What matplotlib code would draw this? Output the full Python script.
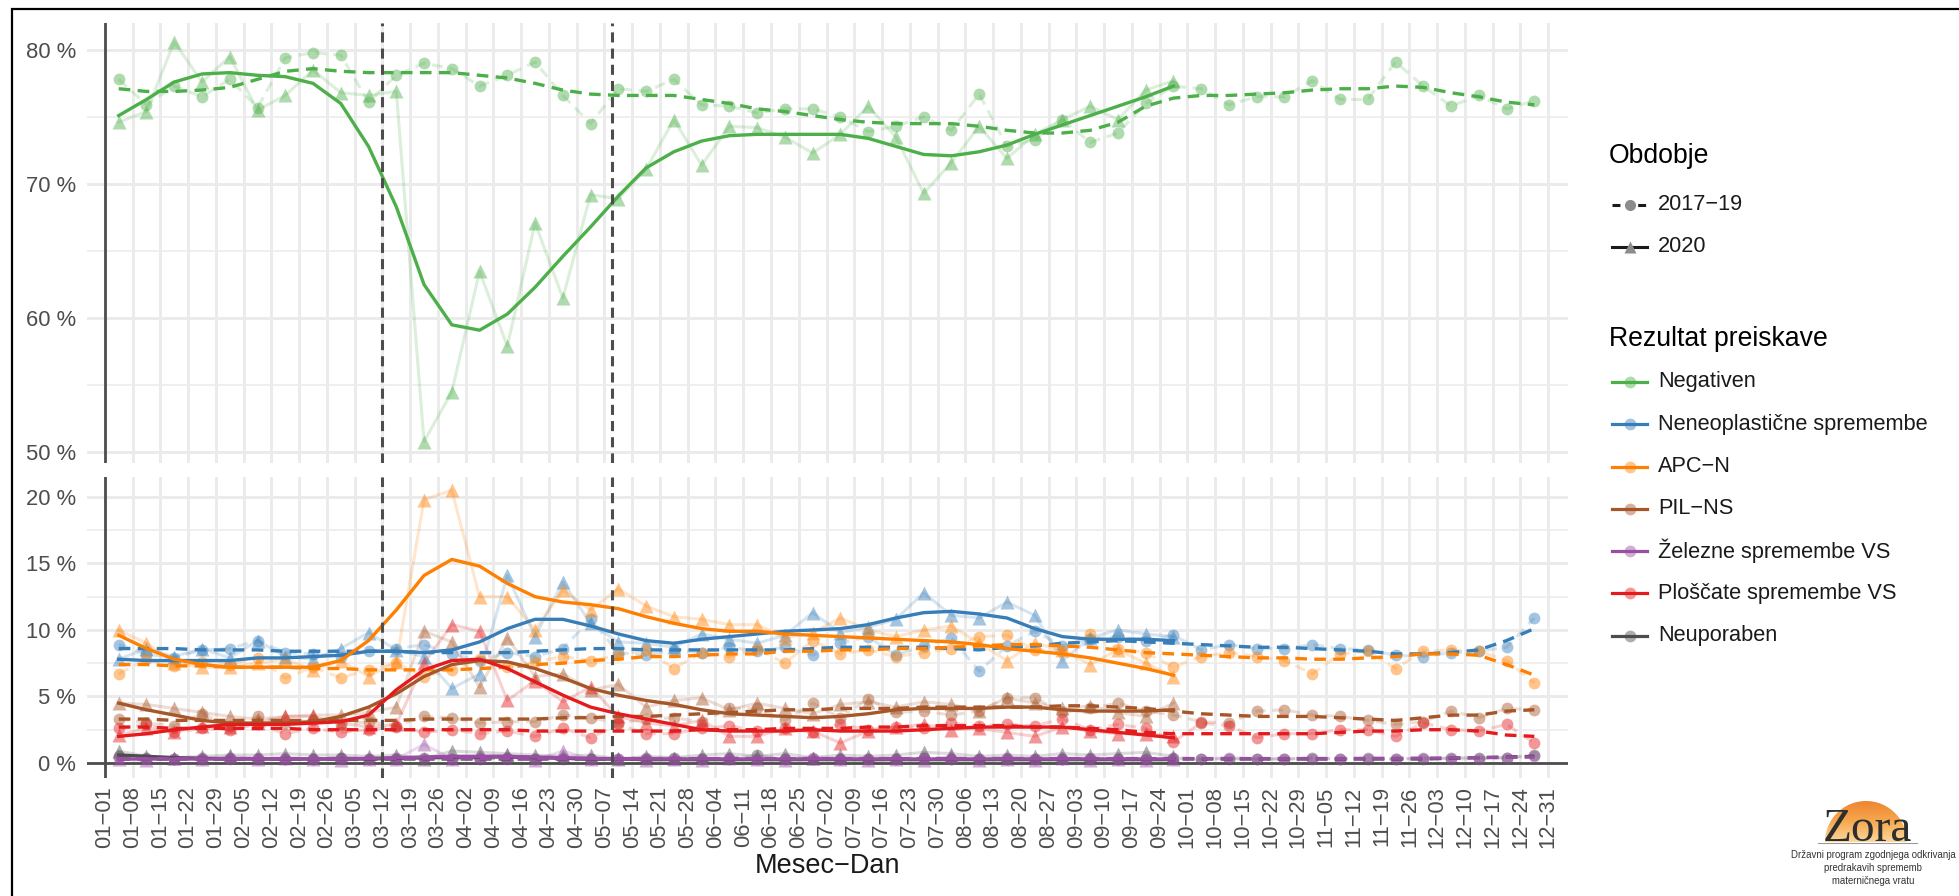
import numpy as np
import matplotlib.pyplot as plt
from matplotlib.lines import Line2D
from matplotlib.patches import Circle
from matplotlib.colors import LinearSegmentedColormap
from datetime import datetime

plt.rcParams['font.family'] = ['Liberation Sans', 'DejaVu Sans']

# oznake na osi x (mesec-dan), tedensko
oznake = ['01-01', '01-08', '01-15', '01-22', '01-29', '02-05', '02-12', '02-19', '02-26',
          '03-05', '03-12', '03-19', '03-26', '04-02', '04-09', '04-16', '04-23', '04-30',
          '05-07', '05-14', '05-21', '05-28', '06-04', '06-11', '06-18', '06-25', '07-02',
          '07-09', '07-16', '07-23', '07-30', '08-06', '08-13', '08-20', '08-27', '09-03',
          '09-10', '09-17', '09-24', '10-01', '10-08', '10-15', '10-22', '10-29', '11-05',
          '11-12', '11-19', '11-26', '12-03', '12-10', '12-17', '12-24', '12-31']
epidemija = ['03-12', '05-09']

obdobja = ['2017\u221219', '2020']
rezultati = ['Negativen', 'Neneoplasti\u010dne spremembe', 'APC\u2212N', 'PIL\u2212NS',
             '\u017delezne spremembe VS', 'Plo\u0161\u010date spremembe VS', 'Neuporaben']
barve = ['#4DAF4A', '#377EB8', '#FF7F00', '#A65628', '#984EA3', '#E41A1C', '#4D4D4D']

# --- Negativen (%)
neg_1719 = [77.8, 75.9, 77.3, 76.5, 77.8, 75.7, 79.4, 79.8, 79.6, 76.1, 78.1, 79.0, 78.6, 77.3,
            78.1, 79.1, 76.6, 74.5, 77.1, 76.9, 77.8, 75.9, 75.8, 75.3, 75.6, 75.6, 75.0, 73.9,
            74.3, 75.0, 74.0, 76.7, 72.8, 73.3, 74.8, 73.1, 73.8, 76.0, 77.3, 77.1, 75.9, 76.5,
            76.5, 77.7, 76.3, 76.3, 79.1, 77.3, 75.8, 76.6, 75.6, 76.2]
neg_1719_gl = [77.1, 76.9, 76.9, 77.0, 77.2, 77.8, 78.4, 78.6, 78.4, 78.3, 78.3, 78.3, 78.3, 78.1,
               77.9, 77.5, 77.0, 76.7, 76.6, 76.6, 76.6, 76.3, 76.0, 75.6, 75.4, 75.1, 74.8, 74.6,
               74.5, 74.5, 74.5, 74.3, 74.0, 73.8, 73.8, 74.0, 74.6, 75.8, 76.4, 76.6, 76.6, 76.7,
               76.8, 77.0, 77.1, 77.1, 77.3, 77.2, 76.8, 76.5, 76.1, 75.9]
neg_2020 = [74.6, 75.4, 80.6, 77.6, 79.5, 75.5, 76.6, 78.5, 76.8, 76.6, 76.9, 50.8, 54.5, 63.5,
            57.9, 67.1, 61.5, 69.2, 68.9, 71.1, 74.8, 71.4, 74.3, 74.2, 73.5, 72.3, 73.7, 75.8,
            73.5, 69.3, 71.6, 74.3, 71.9, 73.7, 74.8, 75.8, 74.8, 77.0, 77.7]
neg_2020_gl = [75.1, 76.3, 77.6, 78.2, 78.3, 78.1, 78.0, 77.5, 76.0, 72.8, 68.3, 62.5, 59.5, 59.1,
               60.3, 62.3, 64.6, 66.8, 69.1, 71.2, 72.4, 73.2, 73.6, 73.7, 73.7, 73.7, 73.7, 73.4,
               72.8, 72.2, 72.1, 72.4, 72.9, 73.7, 74.4, 75.1, 75.8, 76.5, 77.3]

# --- Neneoplasticne spremembe
neo_1719 = [8.9, 8.2, 7.9, 8.5, 8.6, 9.2, 8.3, 8.2, 8.0, 8.4, 8.6, 8.9, 8.2, 7.7, 8.3, 8.0, 8.6,
            10.8, 8.3, 8.1, 8.5, 8.3, 8.7, 8.4, 8.7, 8.1, 9.0, 9.5, 8.1, 8.8, 9.4, 6.9, 8.8, 9.9,
            8.8, 9.3, 9.5, 9.2, 9.6, 8.5, 8.9, 8.6, 8.6, 8.9, 8.6, 8.5, 8.1, 8.0, 8.3, 8.4, 8.7, 10.9]
neo_1719_gl = [8.6, 8.6, 8.6, 8.5, 8.5, 8.5, 8.4, 8.4, 8.4, 8.4, 8.4, 8.3, 8.3, 8.3, 8.3, 8.4, 8.5,
               8.6, 8.6, 8.5, 8.5, 8.5, 8.5, 8.5, 8.5, 8.6, 8.7, 8.7, 8.7, 8.7, 8.6, 8.5, 8.7, 8.8,
               9.0, 9.1, 9.2, 9.1, 9.0, 8.9, 8.8, 8.7, 8.7, 8.6, 8.5, 8.4, 8.2, 8.2, 8.3, 8.5, 9.2, 10.1]
neo_2020 = [7.8, 8.6, 8.0, 8.6, 7.9, 9.2, 8.0, 7.8, 8.6, 9.8, 8.5, 8.0, 5.6, 6.7, 14.1, 9.5, 13.6,
            10.5, 9.1, 9.0, 8.7, 9.7, 9.3, 9.0, 9.6, 11.3, 9.8, 10.2, 10.8, 12.8, 11.1, 10.9, 12.1,
            11.1, 7.7, 9.4, 10.0, 9.7, 9.5]
neo_2020_gl = [7.8, 7.7, 7.7, 7.7, 7.7, 7.9, 7.9, 8.0, 8.1, 8.4, 8.4, 8.3, 8.5, 9.1, 10.1, 10.8,
               10.8, 10.3, 9.7, 9.2, 9.0, 9.3, 9.5, 9.7, 9.9, 10.0, 10.1, 10.4, 10.9, 11.3, 11.4,
               11.2, 10.9, 10.1, 9.5, 9.3, 9.3, 9.3, 9.2]

# --- APC-N
apc_1719 = [6.7, 7.8, 7.3, 7.6, 7.4, 7.9, 6.4, 7.2, 6.4, 7.0, 7.5, 6.5, 7.0, 7.8, 7.2, 7.6, 8.0,
            7.7, 8.1, 8.5, 7.1, 8.3, 8.0, 8.6, 7.5, 9.2, 8.2, 8.5, 8.0, 8.3, 8.6, 9.5, 9.6, 8.5,
            8.4, 9.7, 8.6, 8.3, 7.2, 8.0, 8.3, 8.0, 7.7, 6.7, 8.2, 8.4, 7.1, 8.4, 8.5, 8.4, 7.7, 6.0]
apc_1719_gl = [7.4, 7.4, 7.3, 7.3, 7.2, 7.2, 7.2, 7.1, 7.1, 7.0, 7.0, 7.0, 7.0, 7.1, 7.2, 7.4, 7.5,
               7.7, 7.8, 8.0, 8.0, 8.1, 8.2, 8.2, 8.4, 8.4, 8.5, 8.5, 8.6, 8.6, 8.7, 8.8, 8.9, 8.9,
               8.8, 8.7, 8.5, 8.3, 8.2, 8.1, 8.0, 7.9, 7.9, 7.8, 7.8, 7.9, 8.0, 8.2, 8.2, 8.1, 7.4, 6.6]
apc_2020 = [10.0, 9.0, 7.5, 7.2, 7.2, 7.5, 7.8, 7.0, 7.7, 6.5, 7.6, 19.8, 20.5, 12.5, 12.5, 10.0,
            13.0, 11.5, 13.1, 11.8, 11.0, 10.8, 10.4, 10.4, 9.4, 9.8, 10.9, 10.0, 9.5, 10.0, 10.3,
            9.0, 7.7, 9.0, 8.5, 7.4, 8.5, 7.5, 6.5]
apc_2020_gl = [9.6, 8.6, 7.8, 7.4, 7.2, 7.2, 7.2, 7.2, 7.7, 9.2, 11.5, 14.1, 15.3, 14.8, 13.5, 12.5,
               12.1, 11.9, 11.6, 11.0, 10.5, 10.1, 9.9, 9.9, 9.7, 9.6, 9.5, 9.4, 9.3, 9.2, 9.1, 8.9,
               8.6, 8.4, 8.2, 7.9, 7.5, 7.1, 6.6]

# --- PIL-NS
pil_1719 = [3.3, 3.0, 2.8, 3.7, 2.8, 3.5, 3.0, 3.2, 2.9, 3.1, 2.8, 3.5, 3.4, 3.0, 3.1, 3.1, 3.6,
            3.4, 3.0, 3.3, 3.4, 3.1, 4.1, 4.1, 3.2, 4.5, 3.4, 4.8, 3.8, 3.9, 3.6, 3.9, 4.9, 4.9,
            3.8, 4.1, 4.5, 3.9, 3.6, 3.1, 3.0, 3.9, 4.0, 3.6, 3.5, 3.2, 2.9, 3.1, 3.9, 3.4, 4.1, 4.0]
pil_1719_gl = [3.3, 3.3, 3.2, 3.2, 3.2, 3.2, 3.2, 3.2, 3.2, 3.2, 3.2, 3.3, 3.3, 3.3, 3.3, 3.3, 3.4,
               3.4, 3.5, 3.5, 3.6, 3.7, 3.8, 3.9, 4.0, 4.0, 4.1, 4.1, 4.1, 4.2, 4.2, 4.2, 4.2, 4.2,
               4.3, 4.3, 4.2, 4.1, 3.9, 3.7, 3.6, 3.5, 3.5, 3.5, 3.4, 3.3, 3.2, 3.4, 3.6, 3.6, 3.9, 4.0]
pil_2020 = [4.5, 4.4, 4.1, 3.8, 3.5, 3.3, 3.5, 3.6, 3.6, 3.8, 4.2, 9.9, 9.1, 5.7, 9.4, 6.5, 6.7,
            5.5, 5.9, 4.2, 4.7, 4.9, 4.0, 4.5, 4.1, 3.7, 4.4, 4.6, 4.2, 4.6, 4.4, 3.9, 4.9, 4.5,
            4.1, 4.3, 3.8, 3.5, 4.5]
pil_2020_gl = [4.5, 4.0, 3.6, 3.2, 3.0, 3.0, 3.0, 3.1, 3.5, 4.2, 5.2, 6.5, 7.4, 7.7, 7.6, 7.1, 6.4,
               5.6, 5.1, 4.7, 4.4, 4.0, 3.7, 3.6, 3.5, 3.4, 3.5, 3.7, 4.0, 4.1, 4.1, 4.1, 4.2, 4.2,
               4.0, 3.9, 3.9, 3.9, 4.0]

# --- Zlezne spremembe VS
zel_1719 = [0.4, 0.3, 0.3, 0.4, 0.3, 0.4, 0.3, 0.3, 0.4, 0.3, 0.4, 0.3, 0.3, 0.4, 0.3, 0.3, 0.4,
            0.3, 0.3, 0.4, 0.3, 0.3, 0.4, 0.3, 0.3, 0.4, 0.3, 0.3, 0.3, 0.4, 0.3, 0.3, 0.4, 0.3,
            0.3, 0.4, 0.3, 0.3, 0.3, 0.3, 0.4, 0.3, 0.3, 0.3, 0.3, 0.4, 0.3, 0.4, 0.3, 0.3, 0.4, 0.5]
zel_1719_gl = [0.33, 0.33, 0.33, 0.33, 0.33, 0.33, 0.33, 0.33, 0.33, 0.33, 0.33, 0.33, 0.33, 0.33,
               0.33, 0.33, 0.33, 0.33, 0.33, 0.33, 0.33, 0.33, 0.33, 0.33, 0.33, 0.33, 0.33, 0.33,
               0.33, 0.33, 0.33, 0.33, 0.33, 0.33, 0.33, 0.33, 0.33, 0.33, 0.33, 0.33, 0.33, 0.33,
               0.33, 0.33, 0.33, 0.34, 0.35, 0.36, 0.38, 0.40, 0.42, 0.45]
zel_2020 = [0.3, 0.2, 0.4, 0.3, 0.5, 0.3, 0.4, 0.3, 0.2, 0.3, 0.3, 1.4, 0.3, 0.5, 0.6, 0.2, 0.9,
            0.3, 0.4, 0.2, 0.3, 0.2, 0.4, 0.3, 0.2, 0.4, 0.3, 0.2, 0.3, 0.2, 0.5, 0.2, 0.3, 0.2,
            0.4, 0.2, 0.3, 0.2, 0.3]
zel_2020_gl = [0.3, 0.3, 0.3, 0.3, 0.3, 0.3, 0.3, 0.3, 0.3, 0.35, 0.4, 0.45, 0.5, 0.5, 0.5, 0.45,
               0.4, 0.35, 0.3, 0.3, 0.3, 0.3, 0.3, 0.3, 0.3, 0.3, 0.3, 0.3, 0.3, 0.3, 0.3, 0.3,
               0.3, 0.3, 0.3, 0.3, 0.3, 0.3, 0.3]

# --- Ploscate spremembe VS
plo_1719 = [2.6, 2.9, 2.3, 2.6, 2.5, 2.9, 2.2, 2.6, 2.3, 2.5, 2.7, 2.3, 2.5, 2.2, 2.4, 2.0, 2.6,
            1.9, 2.9, 2.2, 2.2, 2.6, 2.8, 2.4, 2.6, 2.3, 2.9, 2.5, 2.7, 2.6, 3.0, 2.8, 2.9, 2.8,
            3.3, 2.5, 2.9, 2.6, 1.6, 3.0, 2.8, 1.9, 2.2, 2.2, 2.5, 2.5, 2.0, 3.0, 2.5, 2.4, 2.9, 1.5]
plo_1719_gl = [2.7, 2.7, 2.6, 2.6, 2.6, 2.6, 2.6, 2.5, 2.5, 2.5, 2.5, 2.5, 2.5, 2.5, 2.5, 2.4, 2.4,
               2.4, 2.4, 2.4, 2.4, 2.5, 2.5, 2.5, 2.6, 2.6, 2.6, 2.7, 2.7, 2.8, 2.8, 2.8, 2.8, 2.7,
               2.7, 2.6, 2.5, 2.3, 2.2, 2.2, 2.2, 2.2, 2.2, 2.2, 2.3, 2.4, 2.4, 2.5, 2.5, 2.4, 2.1, 2.0]
plo_2020 = [2.1, 2.6, 2.3, 2.8, 2.7, 3.0, 3.5, 3.5, 3.0, 2.7, 2.9, 7.5, 10.4, 9.9, 4.7, 6.2, 4.6,
            5.7, 3.5, 3.0, 2.8, 3.2, 2.0, 2.0, 2.6, 2.4, 1.5, 2.4, 2.7, 2.9, 2.5, 2.6, 2.3, 2.0,
            2.7, 2.4, 2.2, 2.2, 2.0]
plo_2020_gl = [2.0, 2.2, 2.5, 2.7, 2.9, 2.9, 2.9, 3.0, 3.1, 3.6, 5.5, 7.0, 7.7, 7.8, 7.1, 6.1, 5.1,
               4.2, 3.7, 3.3, 2.9, 2.5, 2.4, 2.4, 2.4, 2.5, 2.4, 2.4, 2.4, 2.5, 2.6, 2.7, 2.7, 2.7,
               2.7, 2.5, 2.3, 2.1, 1.9]

# --- Neuporaben
neu_1719 = [0.5, 0.4, 0.3, 0.3, 0.4, 0.3, 0.3, 0.3, 0.4, 0.3, 0.3, 0.4, 0.3, 0.3, 0.4, 0.3, 0.3,
            0.3, 0.3, 0.3, 0.4, 0.3, 0.3, 0.6, 0.3, 0.3, 0.3, 0.3, 0.3, 0.4, 0.3, 0.3, 0.3, 0.3,
            0.3, 0.3, 0.3, 0.3, 0.4, 0.3, 0.3, 0.3, 0.3, 0.4, 0.3, 0.3, 0.3, 0.3, 0.4, 0.4, 0.4, 0.6]
neu_1719_gl = [0.3, 0.3, 0.3, 0.3, 0.3, 0.3, 0.3, 0.3, 0.3, 0.3, 0.3, 0.3, 0.3, 0.3, 0.3, 0.3, 0.3,
               0.3, 0.3, 0.3, 0.3, 0.3, 0.3, 0.3, 0.3, 0.3, 0.3, 0.3, 0.3, 0.3, 0.3, 0.3, 0.3, 0.3,
               0.3, 0.3, 0.3, 0.3, 0.3, 0.3, 0.3, 0.3, 0.3, 0.3, 0.3, 0.3, 0.3, 0.3, 0.35, 0.4, 0.45, 0.5]
neu_2020 = [0.9, 0.5, 0.4, 0.5, 0.6, 0.6, 0.7, 0.6, 0.6, 0.5, 0.6, 0.3, 0.9, 0.8, 0.7, 0.6, 0.5,
            0.6, 0.3, 0.5, 0.4, 0.6, 0.7, 0.5, 0.7, 0.4, 0.6, 0.5, 0.6, 0.8, 0.7, 0.5, 0.6, 0.5,
            0.7, 0.6, 0.7, 0.8, 0.5]
neu_2020_gl = [0.6, 0.5, 0.4, 0.35, 0.3, 0.3, 0.3, 0.3, 0.3, 0.3, 0.35, 0.4, 0.45, 0.45, 0.45, 0.4,
               0.35, 0.3, 0.3, 0.25, 0.25, 0.25, 0.25, 0.25, 0.25, 0.25, 0.25, 0.25, 0.25, 0.25,
               0.25, 0.25, 0.25, 0.25, 0.25, 0.25, 0.25, 0.25, 0.25]

spodaj = [  # (barva, 2017-19, gladko, 2020, gladko) - vrstni red risanja
    (barve[6], neu_1719, neu_1719_gl, neu_2020, neu_2020_gl),
    (barve[1], neo_1719, neo_1719_gl, neo_2020, neo_2020_gl),
    (barve[2], apc_1719, apc_1719_gl, apc_2020, apc_2020_gl),
    (barve[3], pil_1719, pil_1719_gl, pil_2020, pil_2020_gl),
    (barve[5], plo_1719, plo_1719_gl, plo_2020, plo_2020_gl),
    (barve[4], zel_1719, zel_1719_gl, zel_2020, zel_2020_gl),
]


def dan(md):
    # dan v letu (od 1. 1.), neprestopno leto
    return (datetime.strptime('2019-' + md, '%Y-%m-%d') - datetime(2019, 1, 1)).days


def sredina_tedna(n):
    return 3.5 + 7 * np.arange(n)


DASH = (3.5, 2.2)
SIVA = '#4D4D4D'


def narisi(ax, barva, v1, g1, v2, g2):
    x1 = sredina_tedna(len(v1))
    x2 = sredina_tedna(len(v2))
    ax.plot(x1, v1, color=barva, alpha=0.2, lw=2.2, dashes=DASH, zorder=2)
    ax.plot(x2, v2, color=barva, alpha=0.2, lw=2.2, zorder=2)
    ax.plot(x1, v1, 'o', color=barva, alpha=0.45, ms=8.5, mec='none', zorder=3)
    ax.plot(x2, v2, '^', color=barva, alpha=0.45, ms=10, mec='none', zorder=3)
    ax.plot(x1, g1, color=barva, lw=2.4, dashes=DASH, zorder=4)
    ax.plot(x2, g2, color=barva, lw=2.4, zorder=4)


W, H = 1959, 896
fig = plt.figure(figsize=(W / 100, H / 100), dpi=100)


def px_os(l, t, r, b):
    return fig.add_axes([l / W, 1 - b / H, (r - l) / W, (b - t) / H])


ax_top = px_os(87, 23, 1568, 463)
ax_bot = px_os(87, 477, 1568, 778)

tick_dni = [dan(o) for o in oznake]

for ax in (ax_top, ax_bot):
    ax.set_xlim(-4.5, 369)
    ax.set_xticks(tick_dni)
    ax.set_xticklabels([o.replace('-', '\u2212') for o in oznake], rotation=90)
    ax.grid(axis='x', which='major', color='#EBEBEB', lw=2.1)
    ax.grid(axis='y', which='major', color='#EBEBEB', lw=2.1)
    ax.grid(axis='y', which='minor', color='#EBEBEB', lw=1.1)
    ax.set_axisbelow(True)
    for s in ax.spines.values():
        s.set_visible(False)
    ax.tick_params(which='both', length=0, labelsize=15.8, labelcolor=SIVA)
    ax.tick_params(axis='y', pad=8)
    ax.tick_params(axis='x', pad=6)
    ax.axvline(dan('01-01'), color=SIVA, lw=2.0, zorder=5)
    for e in epidemija:
        ax.axvline(dan(e), color=SIVA, lw=2.2, dashes=(3.3, 2.0), zorder=6)

ax_top.set_ylim(49.2, 82.0)
ax_top.set_yticks([50, 60, 70, 80])
ax_top.set_yticks([55, 65, 75], minor=True)
ax_top.set_yticklabels(['50 %', '60 %', '70 %', '80 %'])
ax_top.tick_params(labelbottom=False)
narisi(ax_top, barve[0], neg_1719, neg_1719_gl, neg_2020, neg_2020_gl)

ax_bot.set_ylim(-1.13, 21.5)
ax_bot.set_yticks([0, 5, 10, 15, 20])
ax_bot.set_yticks([2.5, 7.5, 12.5, 17.5], minor=True)
ax_bot.set_yticklabels(['0 %', '5 %', '10 %', '15 %', '20 %'])
ax_bot.axhline(0, color=SIVA, lw=2.0, zorder=1)
for b, v1, g1, v2, g2 in spodaj:
    narisi(ax_bot, b, v1, g1, v2, g2)
ax_bot.set_xlabel('Mesec\u2212Dan', fontsize=19.5, color='#1A1A1A', labelpad=3)

# prekrivna os za legendo, okvir in logotip (pikselske koordinate)
ov = fig.add_axes([0, 0, 1, 1], zorder=10)
ov.set_xlim(0, W)
ov.set_ylim(H, 0)
ov.axis('off')

ov.plot([12, 12, W], [H, 9, 9], color='black', lw=1.6, solid_joinstyle='miter')

kx0, kx1, tx = 1612, 1647, 1658
km = (kx0 + kx1) / 2
ov.text(1609, 156, 'Obdobje', fontsize=19.2, va='center', color='black')
ov.plot([kx0, kx1], [205, 205], color='#1A1A1A', lw=2.2, dashes=(2.6, 1.6))
ov.plot([km], [205], 'o', color='#8C8C8C', ms=8, mec='none')
ov.text(tx, 205, obdobja[0], fontsize=15.7, va='center', color='#1A1A1A')
ov.plot([kx0, kx1], [247, 247], color='#1A1A1A', lw=2.2)
ov.plot([km], [247], '^', color='#8C8C8C', ms=9, mec='none')
ov.text(tx, 247, obdobja[1], fontsize=15.7, va='center', color='#1A1A1A')

ov.text(1609, 339, 'Rezultat preiskave', fontsize=19.2, va='center', color='black')
for k, (ime, b) in enumerate(zip(rezultati, barve)):
    y = 382 + 42.3 * k
    ov.plot([kx0, kx1], [y, y], color=b, lw=2.3)
    ov.plot([km], [y], 'o', color=b, alpha=0.45, ms=8.5, mec='none')
    ov.text(tx, y, ime, fontsize=15.7, va='center', color='#1A1A1A')

# logotip Zora
sonce = Circle((1866, 842), 41, transform=ov.transData, facecolor='none', edgecolor='none')
ov.add_patch(sonce)
grad = np.linspace(0, 1, 100).reshape(-1, 1)
cm = LinearSegmentedColormap.from_list('zora', ['#EE8530', '#F6A950', '#FCD79C'])
im = ov.imshow(grad, cmap=cm, extent=(1825, 1907, 842, 801), aspect='auto', zorder=1)
im.set_clip_path(sonce)
ov.set_xlim(0, W)
ov.set_ylim(H, 0)
ov.text(1867, 841, 'Zora', fontsize=34, family=['Liberation Serif', 'DejaVu Serif'],
        ha='center', va='baseline', color='#2E2E2E', zorder=3)
ov.plot([1818, 1917], [843, 843], color='#9A9A9A', lw=0.8, zorder=3)
for y, t in [(855, 'Dr\u017eavni program zgodnjega odkrivanja'),
             (868, 'predrakavih sprememb'),
             (881, 'materni\u010dnega vratu')]:
    ov.text(1873, y, t, fontsize=6.9, ha='center', va='center', color='#333333')

fig.savefig('out.png', dpi=100)
